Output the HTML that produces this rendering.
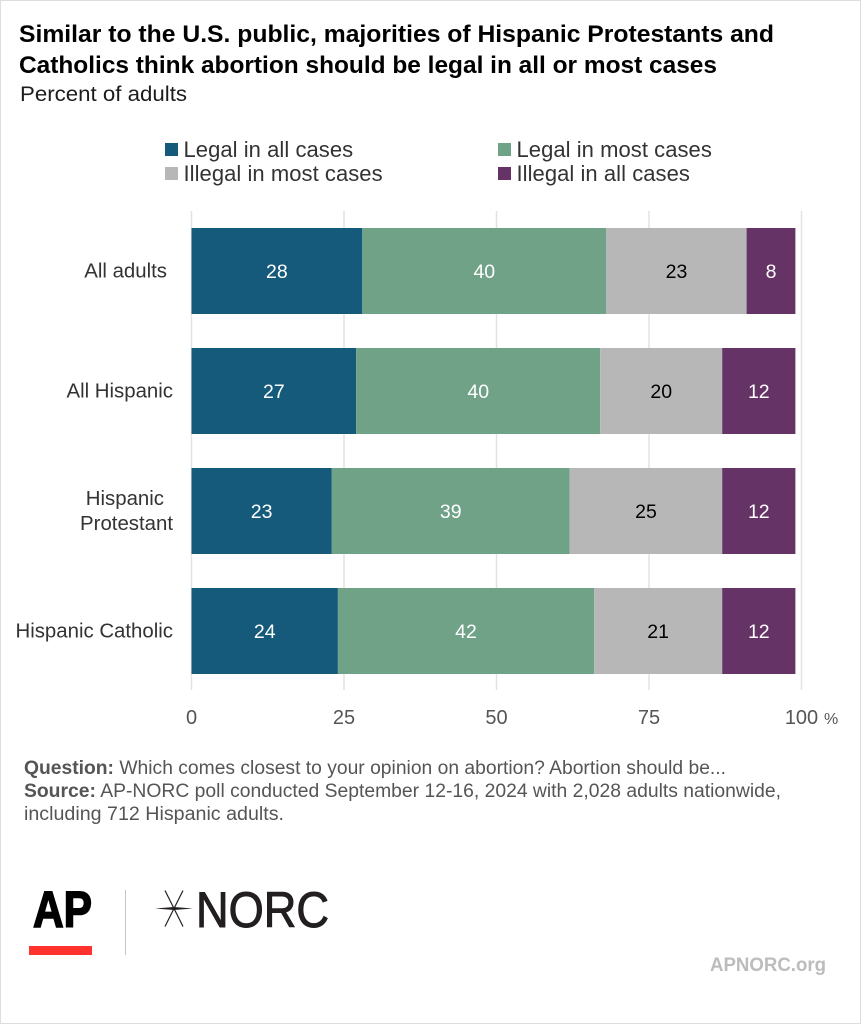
<!DOCTYPE html>
<html lang="en">
<head>
<meta charset="utf-8">
<title>Abortion opinion chart</title>
<style>
html,body{margin:0;padding:0;background:#fff;}
body{width:861px;height:1024px;overflow:hidden;}
svg{display:block;font-family:"Liberation Sans",Arial,sans-serif;}
</style>
</head>
<body>
<svg id="chart" width="861" height="1024" viewBox="0 0 861 1024">
  <rect x="0" y="0" width="861" height="1024" fill="#dddddd"/>
  <rect x="1" y="1" width="859" height="1022" fill="#ffffff"/>

  <text x="19" y="42" font-size="24.5" font-weight="700" fill="#000" textLength="755" lengthAdjust="spacingAndGlyphs">Similar to the U.S. public, majorities of Hispanic Protestants and</text>
  <text x="19" y="73" font-size="24.5" font-weight="700" fill="#000" textLength="698" lengthAdjust="spacingAndGlyphs">Catholics think abortion should be legal in all or most cases</text>
  <text x="20" y="101" font-size="21" fill="#1c1c1c" textLength="167" lengthAdjust="spacingAndGlyphs">Percent of adults</text>

  <g id="legend"></g>
  <g id="grid"></g>
  <g id="bars"></g>
  <g id="cats"></g>
  <g id="ticks"></g>

  <text x="24" y="774" font-size="19" fill="#555" textLength="702" lengthAdjust="spacingAndGlyphs"><tspan font-weight="700">Question:</tspan> Which comes closest to your opinion on abortion? Abortion should be...</text>
  <text x="24" y="797" font-size="19" fill="#555" textLength="757" lengthAdjust="spacingAndGlyphs"><tspan font-weight="700">Source:</tspan> AP-NORC poll conducted September 12-16, 2024 with 2,028 adults nationwide,</text>
  <text x="24" y="820" font-size="19" fill="#555" textLength="260" lengthAdjust="spacingAndGlyphs">including 712 Hispanic adults.</text>

  <g>
    <text x="33" y="927" font-size="51" font-weight="700" fill="#000" stroke="#000" stroke-width="1.6" textLength="59" lengthAdjust="spacingAndGlyphs">AP</text>
    <rect x="29" y="946" width="63" height="9" fill="#ff322e"/>
  </g>
  <rect x="125" y="890" width="1" height="65" fill="#c9c7c0"/>
  <g>
    <g fill="#231f20" stroke="#231f20">
      <polygon points="155,908.500 174,907 193,908.500 174,910" stroke="none"/>
      <line x1="165" y1="890.500" x2="183" y2="926.500" stroke-width="1.2"/>
      <line x1="183" y1="890.500" x2="165" y2="926.500" stroke-width="1.2"/>
    </g>
    <text x="196" y="927" font-size="50" fill="#231f20" stroke="#231f20" stroke-width="1" textLength="133" lengthAdjust="spacingAndGlyphs">NORC</text>
  </g>
  <text x="826" y="971" font-size="19" font-weight="700" fill="#bcbcbc" text-anchor="end" textLength="116" lengthAdjust="spacingAndGlyphs">APNORC.org</text>
</svg>
<script>
const categories = ["All adults", "All Hispanic", "Hispanic Protestant", "Hispanic Catholic"];
const legalAll = [28, 27, 23, 24];
const legalMost = [40, 40, 39, 42];
const illegalMost = [23, 20, 25, 21];
const illegalAll = [8, 12, 12, 12];
const seriesNames = ["Legal in all cases", "Legal in most cases", "Illegal in most cases", "Illegal in all cases"];
const tickValues = [0, 25, 50, 75, 100];

const seriesValues = [legalAll, legalMost, illegalMost, illegalAll];
const seriesColors = ["#165a7b", "#70a288", "#b7b7b7", "#663366"];
const labelColors = ["#ffffff", "#ffffff", "#000000", "#ffffff"];
const NS = "http://www.w3.org/2000/svg";
const plotLeft = 191.5;
const plotRight = 801.5;
const plotTop = 211;
const plotBottom = 690;
const firstBarTop = 228;
const barStep = 120;
const barHeight = 86;

function xScale(v) {
  return plotLeft + (v / 100) * (plotRight - plotLeft);
}
function yBand(i) {
  return firstBarTop + i * barStep;
}
function make(tag, attrs, parent) {
  const el = document.createElementNS(NS, tag);
  for (const k in attrs) el.setAttribute(k, attrs[k]);
  parent.appendChild(el);
  return el;
}

const gridGroup = document.getElementById("grid");
const ticksGroup = document.getElementById("ticks");
tickValues.forEach(function (t) {
  const line = make("line", {x1: xScale(t), x2: xScale(t), y1: plotTop, y2: plotBottom, stroke: "#e2e2e2", "stroke-width": 1.5}, gridGroup);
  
  
  const label = make("text", {x: xScale(t), y: 724, "text-anchor": "middle", "font-size": 20, fill: "#555"}, ticksGroup);
  label.textContent = String(t);
  
  
  if (t === 100) {
    const pct = make("text", {x: xScale(t) + 22.5, y: 724, "font-size": 16, fill: "#555"}, ticksGroup);
    pct.textContent = "%";
    
    
  }
});

const barsGroup = document.getElementById("bars");
categories.forEach(function (cat, i) {
  let cum = 0;
  seriesValues.forEach(function (vals, s) {
    const v = vals[i];
    const x0 = xScale(cum);
    const x1 = xScale(cum + v);
    const rect = make("rect", {x: x0, y: yBand(i), width: x1 - x0, height: barHeight, fill: seriesColors[s]}, barsGroup);
    
    
    const lab = make("text", {x: (x0 + x1) / 2, y: yBand(i) + barHeight / 2 + 7, "text-anchor": "middle", "font-size": 19.5, fill: labelColors[s]}, barsGroup);
    lab.textContent = String(v);
    
    
    cum += v;
  });
});

const catGroup = document.getElementById("cats");
categories.forEach(function (cat, i) {
  const mid = yBand(i) + barHeight / 2;
  let lines = [cat];
  if (cat === "Hispanic Protestant") lines = ["Hispanic", "Protestant"];
  lines.forEach(function (ln, j) {
    const isWrapped = lines.length > 1;
    const right = cat === "All adults" ? 167 : (isWrapped && j === 0 ? 164 : 173);
    const yy = isWrapped ? mid + 6.5 + (j === 0 ? -12.5 : 12.5) : mid + 6.5;
    const t = make("text", {x: right, y: yy, "text-anchor": "end", "font-size": 20.4, fill: "#333"}, catGroup);
    t.textContent = ln;
    
    
  });
});

const legendGroup = document.getElementById("legend");
const legendCols = [165, 498, 165, 498];
const legendRows = [143, 143, 167, 167];
seriesNames.forEach(function (name, s) {
  const sw = make("rect", {x: legendCols[s], y: legendRows[s], width: 13, height: 13, fill: seriesColors[s]}, legendGroup);
  
  
  const t = make("text", {x: legendCols[s] + 18.5, y: legendRows[s] + 14, "font-size": 22, "letter-spacing": 0.05, fill: "#333"}, legendGroup);
  t.textContent = name;
  
  
});
</script>
</body>
</html>
